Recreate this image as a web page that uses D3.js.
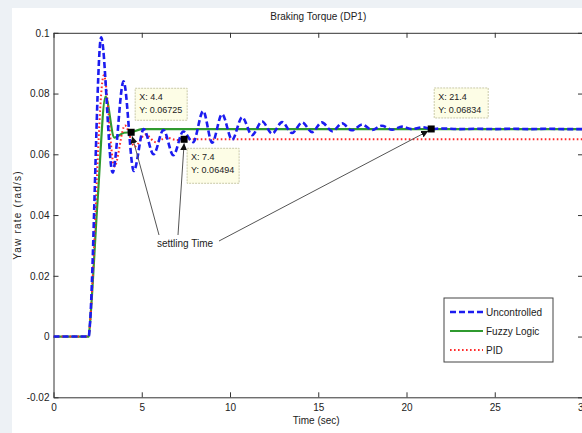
<!DOCTYPE html>
<html>
<head>
<meta charset="utf-8">
<script src="https://cdn.jsdelivr.net/npm/d3@7"></script>
<style>
  html, body { margin: 0; padding: 0; background: #edf1f5; }
  svg { display: block; }
  text { font-family: "Liberation Sans", Arial, Helvetica, sans-serif; fill: #222; }
</style>
</head>
<body>
<svg id="chart" width="582" height="433"></svg>
<script>
// Yaw rate response to a braking torque disturbance (DP1)
const chartTitle = "Braking Torque (DP1)";
const xLabel = "Time (sec)";
const yLabel = "Yaw rate (rad/s)";

const xTicks = [0, 5, 10, 15, 20, 25, 30];
const xTickLabels = ["0", "5", "10", "15", "20", "25", "30"];
const yTicks = [-0.02, 0, 0.02, 0.04, 0.06, 0.08, 0.1];
const yTickLabels = ["-0.02", "0", "0.02", "0.04", "0.06", "0.08", "0.1"];

// Uncontrolled vehicle
const uncTime  = [0, 2.0, 2.05, 2.7, 3.35, 3.97, 4.55, 5.11, 5.67, 6.23, 6.79, 7.35, 7.91, 8.48, 8.99, 9.55,
                  10.12, 10.69, 11.25, 11.82, 12.39, 12.95, 13.52, 14.09, 14.65, 15.2, 15.8, 16.35, 16.9,
                  17.5, 18.05, 18.6, 19.2, 19.75, 20.3, 20.9, 21.4, 22, 23, 24, 25, 26, 27, 28, 29, 30];
const uncValue = [0, 0, 0.003, 0.0985, 0.054, 0.084, 0.0545, 0.0683, 0.0600, 0.0680, 0.0597, 0.0675, 0.0640,
                  0.0742, 0.0638, 0.0732, 0.0648, 0.0722, 0.0663, 0.0708, 0.0668, 0.0706, 0.0670, 0.0705,
                  0.0673, 0.0705, 0.0676, 0.0702, 0.0679, 0.0698, 0.0680, 0.0694, 0.0681, 0.0691, 0.0683,
                  0.0689, 0.06834, 0.0685, 0.0683, 0.0684, 0.0683, 0.0684, 0.0683, 0.0684, 0.0683, 0.0683];

// Fuzzy logic controller
const fuzzyTime  = [0, 2.0, 2.05, 2.5, 2.95, 3.45, 4.0, 4.4, 5.0, 10, 20, 30];
const fuzzyValue = [0, 0, 0.003, 0.045, 0.079, 0.0655, 0.0671, 0.06725, 0.0683, 0.0683, 0.0683, 0.0683];

// PID controller
const pidTime  = [0, 2.0, 2.05, 2.85, 3.45, 4.05, 4.6, 5.2, 5.8, 6.4, 7.0, 7.4, 10, 20, 30];
const pidValue = [0, 0, 0.003, 0.086, 0.056, 0.0695, 0.0625, 0.0665, 0.0640, 0.0655, 0.0647, 0.06494,
                  0.06494, 0.06494, 0.06494];

// Settling-time data tips
const tipTime  = [4.4, 7.4, 21.4];
const tipValue = [0.06725, 0.06494, 0.06834];

const legendNames = ["Uncontrolled", "Fuzzy Logic", "PID"];

const svg = d3.select("#chart");

// figure panel
svg.append("rect").attr("x", 12).attr("y", 8).attr("width", 570).attr("height", 425).attr("fill", "#ffffff");

const x = d3.scaleLinear().domain([0, 30]).range([53.5, 583]);
const y = d3.scaleLinear().domain([-0.02, 0.1]).range([397.3, 32.8]);

const labelOf = (vals, labels) => d => labels[vals.indexOf(d)];

// box axes
const gx = svg.append("g").attr("transform", `translate(0,${y(-0.02)})`)
  .call(d3.axisBottom(x).tickValues(xTicks).tickFormat(labelOf(xTicks, xTickLabels))
    .tickSizeInner(-5).tickSizeOuter(0).tickPadding(7));
const gxt = svg.append("g").attr("transform", `translate(0,${y(0.1)})`)
  .call(d3.axisTop(x).tickValues(xTicks).tickFormat("").tickSizeInner(-5).tickSizeOuter(0));
const gy = svg.append("g").attr("transform", `translate(${x(0)},0)`)
  .call(d3.axisLeft(y).tickValues(yTicks).tickFormat(labelOf(yTicks, yTickLabels))
    .tickSizeInner(-5).tickSizeOuter(0).tickPadding(4));
const gyr = svg.append("g").attr("transform", `translate(${x(30)},0)`)
  .call(d3.axisRight(y).tickValues(yTicks).tickFormat("").tickSizeInner(-5).tickSizeOuter(0));

[gx, gxt, gy, gyr].forEach(g => {
  g.selectAll(".domain").attr("stroke", "#333").attr("stroke-width", 1);
  g.selectAll(".tick line").attr("stroke", "#333");
  g.selectAll("text").attr("font-size", 10).attr("fill", "#222")
    .style("font-family", '"Liberation Sans", Arial, sans-serif');
});

// titles
svg.append("text").attr("x", (x(0) + x(30)) / 2).attr("y", 20).attr("text-anchor", "middle")
  .attr("font-size", 10).text(chartTitle);
svg.append("text").attr("x", (x(0) + x(30)) / 2 - 2).attr("y", 424).attr("text-anchor", "middle")
  .attr("font-size", 10).text(xLabel);
svg.append("text").attr("transform", `translate(21,${(y(0.1) + y(-0.02)) / 2}) rotate(-90)`)
  .attr("text-anchor", "middle").attr("font-size", 10).attr("letter-spacing", 1.2).text(yLabel);

const line = d3.line().x(d => x(d[0])).y(d => y(d[1])).curve(d3.curveMonotoneX);
const zip = (a, b) => a.map((t, i) => [t, b[i]]);

const clip = svg.append("clipPath").attr("id", "plotclip").append("rect")
  .attr("x", x(0)).attr("y", y(0.1)).attr("width", x(30) - x(0)).attr("height", y(-0.02) - y(0.1));
const plot = svg.append("g").attr("clip-path", "url(#plotclip)");

const styles = [
  { color: "#1c1cf0", width: 2.6, dash: "6,3" },
  { color: "#2f9a2f", width: 2.2, dash: null },
  { color: "#ff2a2a", width: 2.0, dash: "1.6,2.4" }
];

plot.append("path").datum(zip(fuzzyTime, fuzzyValue)).attr("d", line)
  .attr("fill", "none").attr("stroke", styles[1].color).attr("stroke-width", styles[1].width);
plot.append("path").datum(zip(pidTime, pidValue)).attr("d", line)
  .attr("fill", "none").attr("stroke", styles[2].color).attr("stroke-width", styles[2].width)
  .attr("stroke-dasharray", styles[2].dash);
plot.append("path").datum(zip(uncTime, uncValue)).attr("d", line)
  .attr("fill", "none").attr("stroke", styles[0].color).attr("stroke-width", styles[0].width)
  .attr("stroke-dasharray", styles[0].dash);

// arrowhead marker
const defs = svg.append("defs");
defs.append("marker").attr("id", "arrowhead").attr("viewBox", "0 0 10 10")
  .attr("refX", 10).attr("refY", 5).attr("markerWidth", 7).attr("markerHeight", 7)
  .attr("markerUnits", "userSpaceOnUse").attr("orient", "auto")
  .append("path").attr("d", "M0,0 L10,5 L0,10 Z").attr("fill", "#111");

// "settling Time" annotation
svg.append("text").attr("x", 157).attr("y", 247).attr("font-size", 10).text("settling Time");
const arrowStarts = [[159, 235], [178, 235], [219, 241]];
const arrowEnds = [[x(tipTime[0]) + 1, y(tipValue[0]) + 4], [x(tipTime[1]), y(tipValue[1]) + 4],
                   [x(tipTime[2]) - 3, y(tipValue[2]) + 2]];
arrowStarts.forEach((s, i) => {
  svg.append("line").attr("x1", s[0]).attr("y1", s[1]).attr("x2", arrowEnds[i][0]).attr("y2", arrowEnds[i][1])
    .attr("stroke", "#555").attr("stroke-width", 1).attr("marker-end", "url(#arrowhead)");
});

// data tips
const tipBoxes = [
  { dx: 4, dy: -44, w: 52, h: 32 },
  { dx: 3, dy: 9, w: 52, h: 35 },
  { dx: 3, dy: -41, w: 54, h: 30 }
];
tipTime.forEach((t, i) => {
  const px = x(t), py = y(tipValue[i]);
  const b = tipBoxes[i];
  const g = svg.append("g");
  g.append("rect").attr("x", px + b.dx).attr("y", py + b.dy).attr("width", b.w).attr("height", b.h)
    .attr("fill", "#fdfde6").attr("stroke", "#c9c9a8").attr("stroke-width", 1)
    .attr("stroke-dasharray", "2,1");
  g.append("text").attr("x", px + b.dx + 4).attr("y", py + b.dy + 12).attr("font-size", 9)
    .text(`X: ${t}`);
  g.append("text").attr("x", px + b.dx + 4).attr("y", py + b.dy + 25).attr("font-size", 9)
    .text(`Y: ${tipValue[i]}`);
  svg.append("rect").attr("x", px - 3.5).attr("y", py - 3.5).attr("width", 7).attr("height", 7)
    .attr("fill", "#000");
});

// legend
const lg = svg.append("g").attr("transform", "translate(444,298)");
lg.append("rect").attr("width", 109).attr("height", 64).attr("fill", "#fff")
  .attr("stroke", "#444").attr("stroke-width", 1);
legendNames.forEach((name, i) => {
  const ly = 14 + i * 19;
  const st = styles[i];
  lg.append("line").attr("x1", 6).attr("x2", 39).attr("y1", ly).attr("y2", ly)
    .attr("stroke", st.color).attr("stroke-width", st.width)
    .attr("stroke-dasharray", st.dash);
  lg.append("text").attr("x", 42).attr("y", ly + 3.5).attr("font-size", 10).text(name);
});
</script>
</body>
</html>
